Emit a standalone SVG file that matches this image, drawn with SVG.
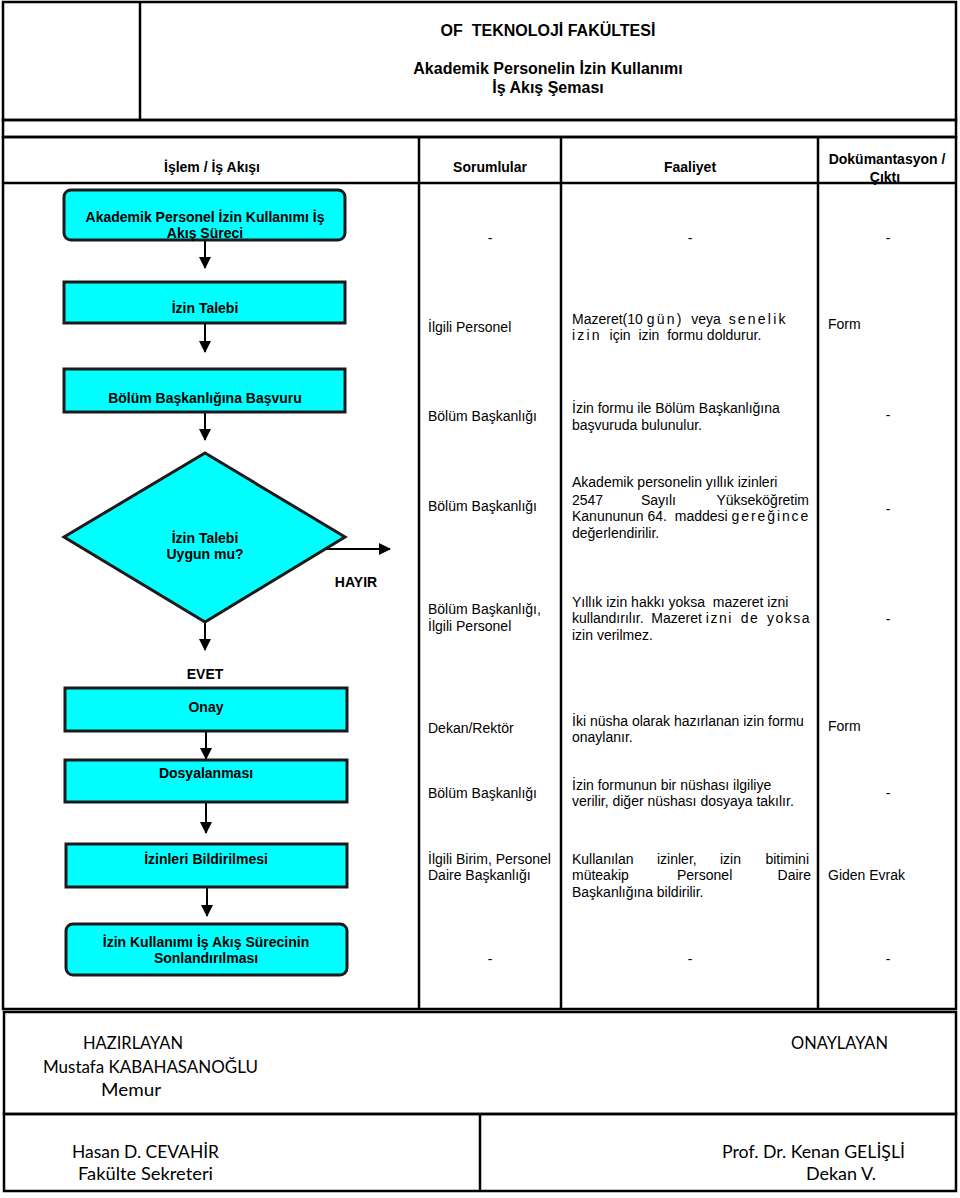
<svg xmlns="http://www.w3.org/2000/svg" width="960" height="1198" viewBox="0 0 960 1198">
<style>
text{white-space:pre}
.frame{fill:none;stroke:#000;stroke-width:2.5}
.ln{stroke:#000;stroke-width:2.5;fill:none}
.box{fill:#00FFFF;stroke:#1a1a1a;stroke-width:3}
.con{stroke:#000;stroke-width:2;fill:none}
.t{font-family:"Liberation Sans",Arial,sans-serif;font-size:14px;fill:#000}
.b{font-weight:bold}
.n{font-family:"Liberation Sans",Arial,sans-serif;font-size:14px;font-weight:bold;fill:#000;text-anchor:middle}
.h{font-family:"Liberation Sans",Arial,sans-serif;font-size:16px;font-weight:bold;fill:#000;text-anchor:middle}
.c{text-anchor:middle}
.e{text-anchor:end}
.s{font-family:Lato,"Open Sans",sans-serif;font-size:17px;fill:#000}
.sp{letter-spacing:2.2px}
</style>
<defs>
<marker id="ah" markerWidth="12" markerHeight="12" refX="11" refY="6" orient="auto" markerUnits="userSpaceOnUse">
<path d="M0,0 L12,6 L0,12 Z" fill="#000"/>
</marker>
</defs>
<rect width="960" height="1198" fill="#fff"/>
<g id="frame">
<rect class="frame" x="3" y="2" width="953" height="118"/>
<line class="ln" x1="140" y1="2" x2="140" y2="120"/>
<rect class="frame" x="3" y="120" width="953" height="17"/>
<rect class="frame" x="3" y="137" width="953" height="872"/>
<line class="ln" x1="3" y1="183" x2="956" y2="183"/>
<line class="ln" x1="419" y1="137" x2="419" y2="1009"/>
<line class="ln" x1="561" y1="137" x2="561" y2="1009"/>
<line class="ln" x1="818" y1="137" x2="818" y2="1009"/>
<rect class="ln" x="4" y="1012" width="952" height="102" stroke-width="3"/>
<rect class="ln" x="4" y="1114" width="952" height="77" stroke-width="3"/>
<line class="ln" x1="480" y1="1114" x2="480" y2="1191" stroke-width="3"/>
</g>
<g id="header">
<text class="h" x="548" y="36">OF  TEKNOLOJİ FAKÜLTESİ</text>
<text class="h" x="548" y="74">Akademik Personelin İzin Kullanımı</text>
<text class="h" x="548" y="93">İş Akış Şeması</text>
<text class="n" x="212" y="172">İşlem / İş Akışı</text>
<text class="n" x="490" y="172">Sorumlular</text>
<text class="n" x="690" y="172">Faaliyet</text>
<text class="n" x="887" y="164" font-size="13">Dokümantasyon /</text>
<text class="n" x="885" y="182" font-size="12">Çıktı</text>
</g>
<g id="connectors">
<line class="con" x1="205" y1="240" x2="205" y2="268" marker-end="url(#ah)"/>
<line class="con" x1="205" y1="323" x2="205" y2="352" marker-end="url(#ah)"/>
<line class="con" x1="205" y1="412" x2="205" y2="440" marker-end="url(#ah)"/>
<line class="con" x1="325" y1="549" x2="390" y2="549" marker-end="url(#ah)"/>
<line class="con" x1="205" y1="622" x2="205" y2="650" marker-end="url(#ah)"/>
<line class="con" x1="206" y1="731" x2="206" y2="759" marker-end="url(#ah)"/>
<line class="con" x1="206" y1="802" x2="206" y2="833" marker-end="url(#ah)"/>
<line class="con" x1="207" y1="887" x2="207" y2="916" marker-end="url(#ah)"/>
<text class="n" x="356" y="587">HAYIR</text>
<text class="n" x="205" y="679">EVET</text>
</g>
<g id="n1">
<rect class="box" x="64" y="190" width="281" height="50" rx="7"/>
<text class="n" x="205" y="222">Akademik Personel İzin Kullanımı İş</text>
<text class="n" x="205" y="238">Akış Süreci</text>
</g>
<g id="n2">
<rect class="box" x="64" y="282" width="281" height="41"/>
<text class="n" x="205" y="313">İzin Talebi</text>
</g>
<g id="n3">
<rect class="box" x="64" y="369" width="281" height="43"/>
<text class="n" x="205" y="403">Bölüm Başkanlığına Başvuru</text>
</g>
<g id="n4">
<polygon class="box" points="205,453 345,537 205,622 64,537" stroke-width="2.5"/>
<text class="n" x="205" y="543">İzin Talebi</text>
<text class="n" x="205" y="559">Uygun mu?</text>
</g>
<g id="n5">
<rect class="box" x="65" y="688" width="282" height="43"/>
<text class="n" x="206" y="712">Onay</text>
</g>
<g id="n6">
<rect class="box" x="65" y="760" width="282" height="42"/>
<text class="n" x="206" y="778">Dosyalanması</text>
</g>
<g id="n7">
<rect class="box" x="66" y="844" width="281" height="43"/>
<text class="n" x="206" y="864">İzinleri Bildirilmesi</text>
</g>
<g id="n8">
<rect class="box" x="66" y="924" width="281" height="51" rx="7"/>
<text class="n" x="206" y="947">İzin Kullanımı İş Akış Sürecinin</text>
<text class="n" x="206" y="963">Sonlandırılması</text>
</g>
<g id="rows">
<text class="t c" x="490" y="243">-</text>
<text class="t c" x="690" y="243">-</text>
<text class="t c" x="888" y="243">-</text>

<text class="t" x="428" y="332">İlgili Personel</text>
<text class="t" x="572" y="324">Mazeret(10 <tspan class="sp">gün)</tspan>  veya  <tspan class="sp">senelik</tspan></text>
<text class="t" x="572" y="340"><tspan class="sp">izin</tspan>  için  izin  formu doldurur.</text>
<text class="t" x="828" y="329">Form</text>

<text class="t" x="428" y="421">Bölüm Başkanlığı</text>
<text class="t" x="572" y="413">İzin formu ile Bölüm Başkanlığına</text>
<text class="t" x="572" y="430">başvuruda bulunulur.</text>
<text class="t c" x="888" y="420">-</text>

<text class="t" x="428" y="511">Bölüm Başkanlığı</text>
<text class="t" x="572" y="487">Akademik personelin yıllık izinleri</text>
<text class="t" x="572" y="505">2547</text>
<text class="t" x="641" y="505">Sayılı</text>
<text class="t e" x="809" y="505">Yükseköğretim</text>
<text class="t" x="572" y="521">Kanununun 64.  maddesi <tspan letter-spacing="1.9">gereğince</tspan></text>
<text class="t" x="572" y="538">değerlendirilir.</text>
<text class="t c" x="888" y="514">-</text>

<text class="t" x="428" y="614">Bölüm Başkanlığı,</text>
<text class="t" x="428" y="631">İlgili Personel</text>
<text class="t" x="572" y="607">Yıllık izin hakkı yoksa  mazeret izni</text>
<text class="t" x="572" y="623">kullandırılır.  Mazeret <tspan letter-spacing="1.5">izni</tspan>  <tspan letter-spacing="1.5">de</tspan>  <tspan letter-spacing="1.5">yoksa</tspan></text>
<text class="t" x="572" y="640">izin verilmez.</text>
<text class="t c" x="888" y="624">-</text>

<text class="t" x="428" y="733">Dekan/Rektör</text>
<text class="t" x="572" y="726">İki nüsha olarak hazırlanan izin formu</text>
<text class="t" x="572" y="742">onaylanır.</text>
<text class="t" x="828" y="731">Form</text>

<text class="t" x="428" y="798">Bölüm Başkanlığı</text>
<text class="t" x="572" y="790">İzin formunun bir nüshası ilgiliye</text>
<text class="t" x="572" y="806">verilir, diğer nüshası dosyaya takılır.</text>
<text class="t c" x="888" y="798">-</text>

<text class="t" x="428" y="864">İlgili Birim, Personel</text>
<text class="t" x="428" y="880">Daire Başkanlığı</text>
<text class="t" x="572" y="864">Kullanılan</text>
<text class="t" x="657" y="864">izinler,</text>
<text class="t" x="720" y="864">izin</text>
<text class="t e" x="809" y="864">bitimini</text>
<text class="t" x="572" y="880">müteakip</text>
<text class="t" x="677" y="880">Personel</text>
<text class="t e" x="811" y="880">Daire</text>
<text class="t" x="572" y="897">Başkanlığına bildirilir.</text>
<text class="t" x="828" y="880">Giden Evrak</text>

<text class="t c" x="490" y="964">-</text>
<text class="t c" x="690" y="964">-</text>
<text class="t c" x="888" y="964">-</text>
</g>
<g id="signatures">
<text class="s" x="83" y="1049" textLength="100" lengthAdjust="spacingAndGlyphs">HAZIRLAYAN</text>
<text class="s" x="43" y="1073" textLength="215" lengthAdjust="spacingAndGlyphs">Mustafa KABAHASANOĞLU</text>
<text class="s" x="101" y="1096" textLength="60" lengthAdjust="spacingAndGlyphs">Memur</text>
<text class="s" x="791" y="1049" textLength="97" lengthAdjust="spacingAndGlyphs">ONAYLAYAN</text>
<text class="s" x="72" y="1158" textLength="147" lengthAdjust="spacingAndGlyphs">Hasan D. CEVAHİR</text>
<text class="s" x="78" y="1180" textLength="135" lengthAdjust="spacingAndGlyphs">Fakülte Sekreteri</text>
<text class="s" x="722" y="1158" textLength="183" lengthAdjust="spacingAndGlyphs">Prof. Dr. Kenan GELİŞLİ</text>
<text class="s" x="806" y="1180" textLength="70" lengthAdjust="spacingAndGlyphs">Dekan V.</text>
</g>
</svg>
